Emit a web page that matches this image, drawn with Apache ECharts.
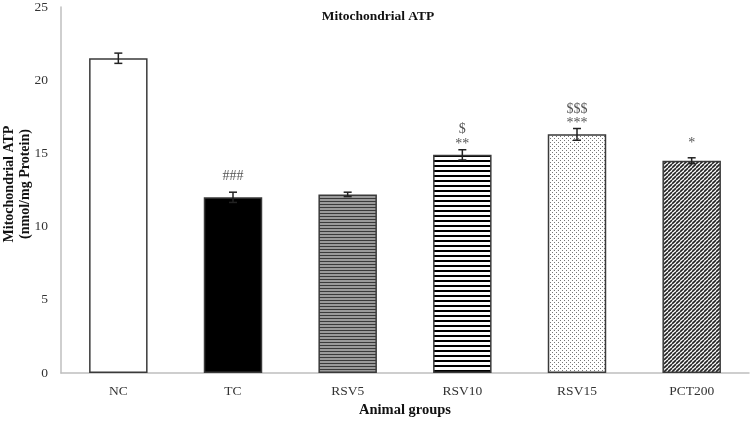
<!DOCTYPE html>
<html><head><meta charset="utf-8">
<script src="https://cdn.jsdelivr.net/npm/echarts@6/dist/echarts.min.js"></script>
<style>html,body{margin:0;padding:0;background:#fff}#c{width:750px;height:422px}</style>
</head><body><div id="c"></div>
<script>
const categories = ['NC','TC','RSV5','RSV10','RSV15','PCT200'];
const values = [21.5, 12.0, 12.2, 14.9, 16.3, 14.5];
const errors = [0.35, 0.35, 0.15, 0.35, 0.4, 0.2];
const markLower = ['', '###', '', '**', '***', '*'];
const markUpper = ['', '', '', '$', '$$$', ''];
const yTicks = [0, 5, 10, 15, 20, 25];

// styling: pixel nudges of the significance marks above the error-bar cap
const lowerNudge = [0, 16, 0, 5, 5.5, 14.5];
const upperNudge = [0, 0, 0, 20, 19.5, 0];

function pat(w, h, draw) {
  const c = document.createElement('canvas'); c.width = w; c.height = h;
  const g = c.getContext('2d'); g.fillStyle = '#fff'; g.fillRect(0,0,w,h); draw(g); return c;
}
const patterns = [
  '#ffffff',
  '#000000',
  {image: pat(4,3,g=>{g.fillStyle='#9a9a9a';g.fillRect(0,0,4,3);g.fillStyle='#3a3a3a';g.fillRect(0,0,4,1);}), repeat:'repeat'},
  {image: pat(4,5,g=>{g.fillStyle='#000';g.fillRect(0,0,4,2);}), repeat:'repeat'},
  {image: pat(4,4,g=>{g.fillStyle='#777';g.fillRect(0,0,1,1);g.fillRect(2,2,1,1);}), repeat:'repeat'},
  {image: pat(4,4,g=>{g.strokeStyle='#222';g.lineWidth=1.6;
     for(let k=-4;k<=8;k+=4){g.beginPath();g.moveTo(k,4);g.lineTo(k+4,0);g.stroke();}}), repeat:'repeat'}
];

const chart = echarts.init(document.getElementById('c'), null, {renderer:'canvas'});
const font = '"Liberation Serif","Times New Roman",serif';
chart.setOption({
  animation:false,
  textStyle:{fontFamily:font},
  grid:{left:61,right:1,top:7,bottom:49,containLabel:false,outerBoundsMode:'none'},
  graphic:[
    {type:'text',x:378,y:17,style:{text:'Mitochondrial ATP',font:'bold 13.5px '+font,fill:'#111',textAlign:'center',textVerticalAlign:'middle'}},
    {type:'text',x:9,y:184,rotation:Math.PI/2,style:{text:'Mitochondrial ATP',font:'bold 14px '+font,fill:'#111',textAlign:'center',textVerticalAlign:'middle'}},
    {type:'text',x:25,y:184,rotation:Math.PI/2,style:{text:'(nmol/mg Protein)',font:'bold 14px '+font,fill:'#111',textAlign:'center',textVerticalAlign:'middle'}}
  ],
  xAxis:{type:'category',data:categories,
    axisLine:{lineStyle:{color:'#bfbfbf',width:1.5}},axisTick:{show:false},
    axisLabel:{color:'#333',fontSize:13.5,margin:11,fontFamily:font},
    name:'Animal groups',nameLocation:'middle',nameGap:30,
    nameTextStyle:{fontWeight:'bold',fontSize:14.5,color:'#111',fontFamily:font}},
  yAxis:{type:'value',min:0,max:25,interval:5,
    axisLine:{show:true,lineStyle:{color:'#bfbfbf',width:1.5}},axisTick:{show:false},splitLine:{show:false},
    axisLabel:{color:'#333',fontSize:13.5,margin:13,fontFamily:font,
      formatter:v=>yTicks.includes(v)?String(v):''}},
  series:[
    {type:'bar',barWidth:'51%',
     data:values.map((v,i)=>({value:v,itemStyle:{color:patterns[i]}})),
     itemStyle:{borderColor:'#3a3a3a',borderWidth:1.5}},
    {type:'custom',z:10,
     data:values.map((v,i)=>[i,v,errors[i]]),
     renderItem:(params,api)=>{
       const i=api.value(0),v=api.value(1),e=api.value(2);
       const top=api.coord([i,v+e]), bot=api.coord([i,v-e]);
       const x=top[0], hw=4;
       const st={stroke:'#222',lineWidth:1.5};
       const ch=[
         {type:'line',shape:{x1:x,y1:top[1],x2:x,y2:bot[1]},style:st},
         {type:'line',shape:{x1:x-hw,y1:top[1],x2:x+hw,y2:top[1]},style:st},
         {type:'line',shape:{x1:x-hw,y1:bot[1],x2:x+hw,y2:bot[1]},style:st}
       ];
       const lo=markLower[i], up=markUpper[i];
       if(lo) ch.push({type:'text',style:{text:lo,x:x,y:top[1]-lowerNudge[i],textAlign:'center',textVerticalAlign:'middle',font:'14px '+font,fill:'#555'}});
       if(up) ch.push({type:'text',style:{text:up,x:x,y:top[1]-upperNudge[i],textAlign:'center',textVerticalAlign:'middle',font:'14px '+font,fill:'#555'}});
       return {type:'group',children:ch};
     }}
  ]
});
</script></body></html>
